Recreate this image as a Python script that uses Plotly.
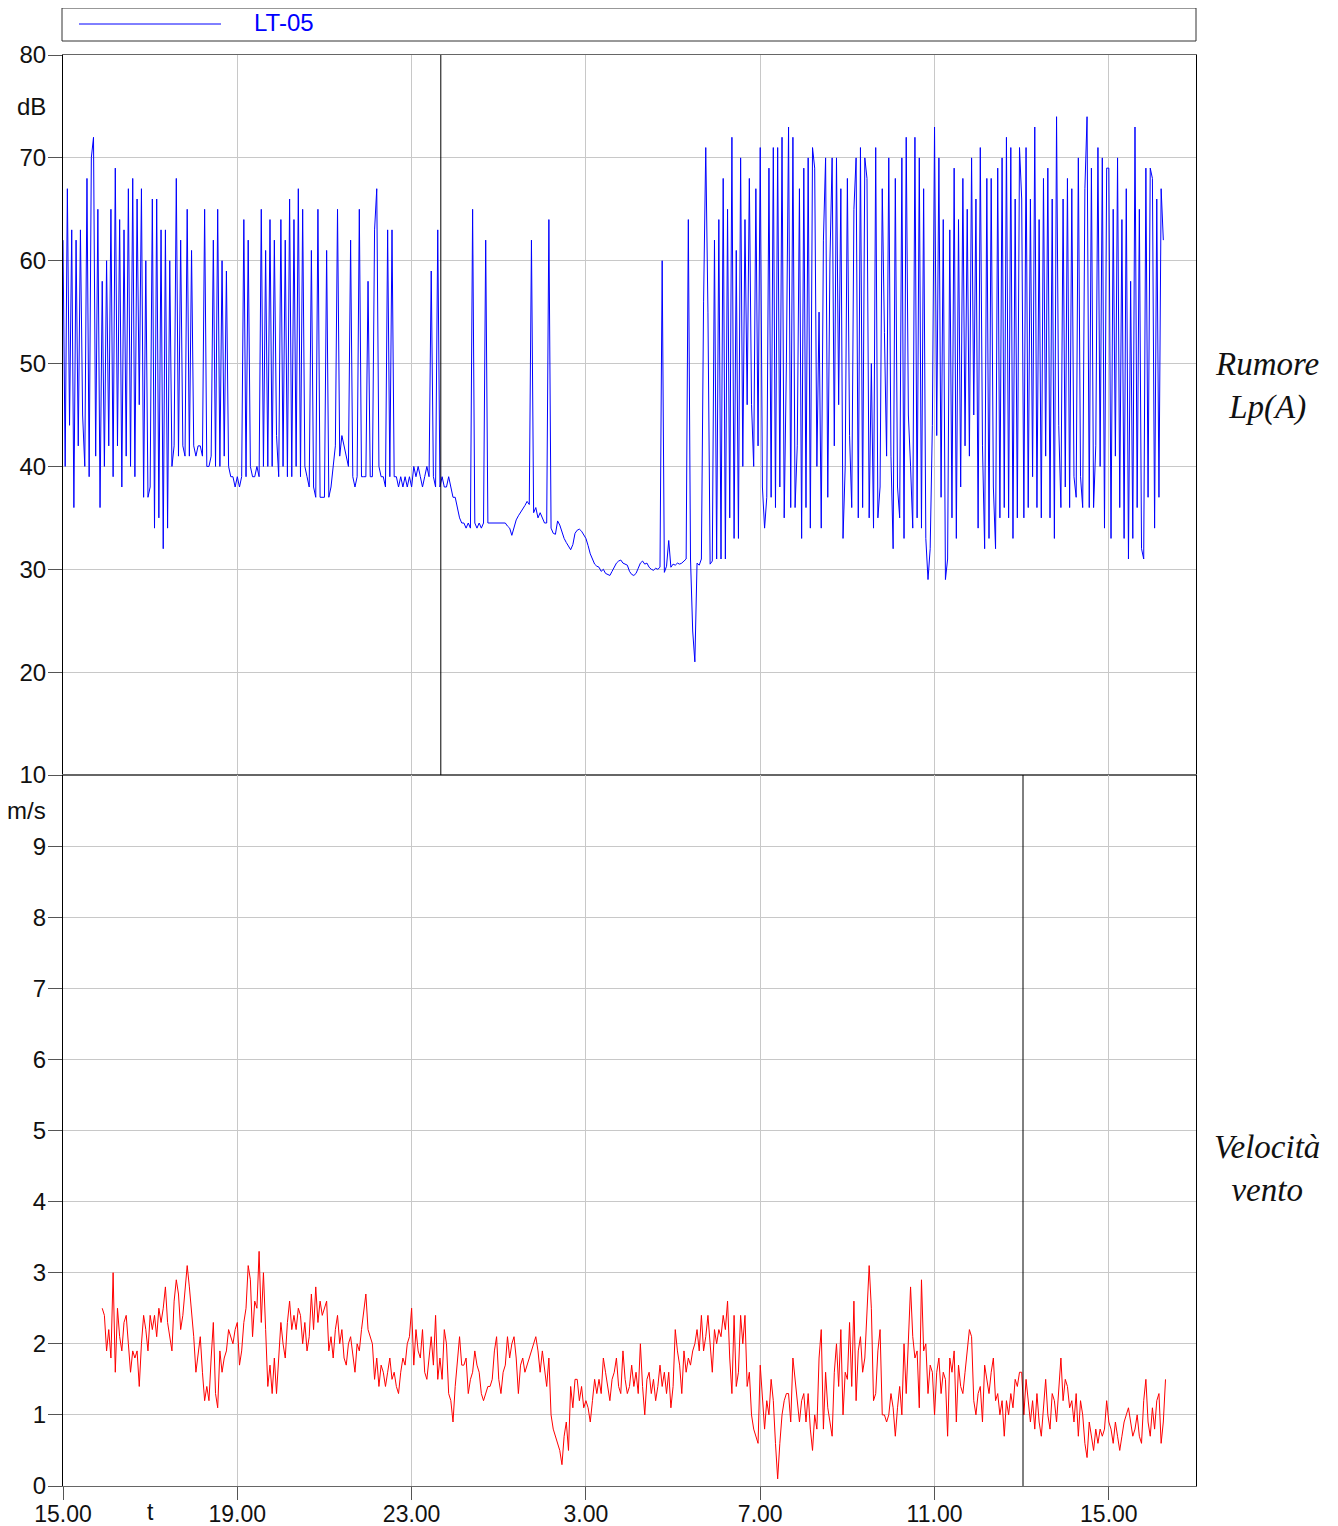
import plotly.graph_objects as go

# ---------------- DATA ----------------
# Noise level Lp(A) [dB], 3-minute samples starting at 15.00 (hours, >24 = next day)
noise_start = 15.0
noise_step = 0.05
noise_h15 = [62, 40, 67, 44, 63, 36, 62, 42, 63, 45, 40, 68, 39, 70, 72, 41, 65, 36, 58, 40]
noise_h16 = [60, 42, 65, 39, 69, 42, 64, 38, 63, 41, 67, 40, 68, 39, 66, 46, 67, 37, 60, 37]
noise_h17 = [38, 66, 34, 66, 35, 63, 32, 63, 34, 60, 40, 42, 68, 41, 62, 42, 41, 65, 41, 61]
noise_h18 = [42, 41, 42, 42, 41, 65, 40, 40, 41, 62, 40, 65, 40, 60, 41, 59, 40, 39, 39, 38]
noise_h19 = [39, 38, 39, 64, 39, 62, 40, 39, 39, 40, 39, 65, 40, 61, 40, 64, 40, 62, 43, 39]
noise_h20 = [64, 40, 62, 39, 66, 39, 64, 40, 67, 39, 65, 40, 39, 38, 61, 38, 37, 65, 37, 37]
noise_h21 = [37, 61, 37, 38, 40, 42, 65, 41, 43, 42, 41, 40, 62, 39, 38, 39, 65, 39, 39, 39]
noise_h22 = [58, 39, 39, 63, 67, 40, 39, 39, 38, 63, 39, 63, 39, 39, 38, 39, 38, 39, 38, 39]
noise_h23 = [38, 40, 39, 40, 39, 38, 39, 40, 39, 59, 39, 38, 63, 38, 39, 38, 38, 39, 38, 37]
noise_h00 = [37, 36, 35, 34.5, 34.5, 34, 34.5, 34, 65, 34.5, 34, 34.5, 34, 34.5, 62, 34.5, 34.5, 34.5, 34.5, 34.5]
noise_h01 = [34.5, 34.5, 34.5, 34.5, 34.2, 34, 33.3, 34, 34.8, 35.2, 35.5, 35.8, 36.2, 36.6, 36.3, 62, 35.5, 36, 35, 35.5]
noise_h02 = [35, 34.5, 34.5, 64, 34, 33.5, 33.4, 34.7, 34.3, 33.6, 33, 32.6, 32.2, 31.9, 32.4, 33.5, 33.8, 33.9, 33.7, 33.4]
noise_h03 = [33, 32.3, 31.5, 31, 30.5, 30.3, 30.2, 29.8, 30, 29.6, 29.5, 29.4, 29.8, 30.2, 30.6, 30.8, 30.9, 30.6, 30.5, 30.4]
noise_h04 = [29.8, 29.5, 29.4, 29.6, 30.1, 30.6, 30.8, 30.5, 30.6, 30.2, 30, 29.9, 30.1, 30, 30.2, 60, 29.7, 30.3, 32.8, 30.2]
noise_h05 = [30.5, 30.4, 30.6, 30.5, 30.6, 30.8, 31, 64, 31, 24, 21, 30.6, 30.4, 31, 56, 71, 55, 30.5, 30.8, 62]
noise_h06 = [31, 64, 31, 68, 31, 65, 35, 72, 33, 61, 33, 70, 40, 64, 46, 68, 46, 40, 67, 42]
noise_h07 = [71, 38, 34, 37, 69, 37, 71, 36, 71, 38, 72, 35, 50, 73, 36, 72, 36, 42, 67, 33]
noise_h08 = [69, 36, 70, 34, 71, 69, 40, 55, 34, 62, 70, 37, 60, 70, 42, 70, 46, 67, 33, 40]
noise_h09 = [68, 43, 36, 65, 70, 35, 71, 36, 70, 68, 35, 50, 34, 71, 35, 38, 67, 53, 41, 70]
noise_h10 = [41, 32, 68, 38, 35, 70, 33, 72, 45, 40, 34, 72, 35, 70, 34, 67, 33, 29, 32, 44]
noise_h11 = [73, 43, 70, 37, 64, 29, 31, 63, 35, 69, 33, 64, 38, 68, 42, 65, 41, 70, 45, 66]
noise_h12 = [34, 71, 42, 32, 68, 33, 68, 38, 32, 69, 35, 70, 36, 72, 35, 71, 33, 66, 35, 71]
noise_h13 = [66, 35, 71, 36, 66, 39, 73, 36, 64, 35, 68, 41, 69, 35, 66, 33, 74, 44, 36, 66]
noise_h14 = [38, 68, 36, 67, 39, 37, 70, 39, 36, 67, 74, 36, 69, 36, 42, 71, 40, 70, 34, 69]
noise_h15b = [69, 33, 65, 41, 70, 36, 64, 33, 67, 31, 58, 33, 73, 36, 65, 32, 31, 69, 37, 69]
noise_h16b = [68, 34, 66, 37, 67, 62]

# Wind speed [m/s], 3-minute samples starting at 15.90
wind_start = 15.9
wind_step = 0.05
wind_h15 = [2.5, 2.4]
wind_h16 = [1.9, 2.2, 1.8, 3.0, 1.6, 2.5, 2.1, 1.9, 2.3, 2.4, 2.0, 1.6, 1.9, 1.8, 1.9, 1.4, 2.0, 2.4, 2.2, 1.9]
wind_h17 = [2.4, 2.2, 2.4, 2.1, 2.5, 2.3, 2.5, 2.8, 2.3, 2.1, 1.9, 2.6, 2.9, 2.7, 2.2, 2.4, 2.7, 3.1, 2.8, 2.5]
wind_h18 = [2.1, 1.6, 1.9, 2.1, 1.6, 1.2, 1.4, 1.2, 1.8, 2.3, 1.3, 1.1, 1.9, 1.6, 1.8, 1.9, 2.2, 2.1, 2.0, 2.2]
wind_h19 = [2.3, 1.7, 1.9, 2.3, 2.5, 3.1, 2.9, 2.1, 2.6, 2.5, 3.3, 2.3, 3.0, 2.2, 1.4, 1.7, 1.3, 1.8, 1.3, 1.8]
wind_h20 = [2.3, 2.0, 1.8, 2.3, 2.6, 2.2, 2.4, 2.2, 2.5, 2.4, 2.0, 2.3, 1.9, 2.1, 2.7, 2.2, 2.8, 2.3, 2.6, 2.4]
wind_h21 = [2.5, 2.6, 1.9, 2.1, 1.8, 2.2, 2.4, 2.0, 2.2, 1.8, 1.7, 2.0, 2.1, 1.8, 1.6, 2.0, 1.9, 2.2, 2.5, 2.7]
wind_h22 = [2.2, 2.1, 2.0, 1.5, 1.8, 1.4, 1.7, 1.6, 1.4, 1.6, 1.8, 1.5, 1.6, 1.4, 1.3, 1.6, 1.8, 1.7, 2.0, 2.1]
wind_h23 = [2.5, 1.7, 2.2, 1.9, 1.8, 2.2, 1.6, 1.5, 1.8, 2.1, 1.7, 2.4, 1.5, 1.8, 1.5, 2.2, 2.0, 1.3, 1.2, 0.9]
wind_h00 = [1.4, 1.8, 2.1, 1.7, 1.7, 1.8, 1.3, 1.5, 1.6, 1.9, 1.7, 1.6, 1.3, 1.2, 1.3, 1.4, 1.4, 1.5, 1.9, 2.1]
wind_h01 = [1.5, 1.3, 1.6, 1.7, 2.1, 1.8, 2.0, 2.1, 1.8, 1.3, 1.7, 1.8, 1.6, 1.7, 1.8, 1.9, 2.0, 2.1, 1.9, 1.6]
wind_h02 = [1.9, 1.6, 1.4, 1.8, 1.0, 0.8, 0.7, 0.6, 0.5, 0.3, 0.7, 0.9, 0.5, 1.4, 1.1, 1.5, 1.5, 1.2, 1.4, 1.1]
wind_h03 = [1.2, 1.1, 0.9, 1.2, 1.5, 1.3, 1.5, 1.3, 1.8, 1.6, 1.4, 1.2, 1.5, 1.6, 1.8, 1.4, 1.3, 1.9, 1.5, 1.3]
wind_h04 = [1.4, 1.7, 1.4, 1.6, 1.3, 2.0, 1.4, 1.0, 1.5, 1.6, 1.3, 1.5, 1.2, 1.4, 1.7, 1.4, 1.6, 1.3, 1.6, 1.1]
wind_h05 = [1.4, 2.2, 1.9, 1.7, 1.3, 1.9, 1.6, 1.8, 1.7, 1.9, 2.0, 2.2, 1.9, 2.4, 1.9, 2.1, 2.4, 2.0, 1.6, 2.2]
wind_h06 = [2.0, 2.2, 2.1, 2.4, 2.2, 2.6, 1.8, 1.3, 2.4, 1.4, 1.6, 2.4, 2.0, 2.4, 1.4, 1.6, 1.0, 0.8, 0.7, 0.6]
wind_h07 = [1.7, 1.3, 0.8, 1.2, 1.0, 1.5, 1.2, 0.6, 0.1, 0.6, 1.0, 1.2, 1.3, 1.3, 0.9, 1.8, 1.5, 1.2, 0.9, 1.2]
wind_h08 = [1.3, 0.9, 1.3, 0.8, 0.5, 1.0, 0.8, 1.8, 2.2, 0.8, 1.6, 1.1, 0.9, 0.7, 1.6, 2.0, 1.4, 2.2, 1.0, 1.6]
wind_h09 = [1.5, 2.3, 1.4, 2.6, 1.2, 1.9, 2.1, 1.6, 1.8, 2.5, 3.1, 2.5, 1.2, 1.3, 1.9, 2.2, 1.0, 1.0, 0.9, 1.0]
wind_h10 = [1.3, 1.1, 0.7, 1.1, 1.4, 1.0, 2.0, 1.3, 2.1, 2.8, 2.1, 1.8, 1.9, 1.1, 2.9, 1.9, 2.0, 1.3, 1.7, 1.6]
wind_h11 = [1.0, 1.6, 1.8, 1.3, 1.6, 1.5, 0.7, 1.8, 1.6, 1.9, 0.9, 1.7, 1.4, 1.3, 1.6, 1.9, 2.2, 2.1, 1.2, 1.0]
wind_h12 = [1.3, 1.4, 0.9, 1.7, 1.5, 1.3, 1.6, 1.8, 1.2, 1.3, 1.0, 1.2, 0.7, 1.2, 1.0, 1.3, 1.1, 1.5, 1.4, 1.6]
wind_h13 = [1.6, 1.0, 1.5, 1.2, 0.9, 1.2, 0.8, 1.3, 0.9, 0.7, 1.1, 1.5, 1.0, 0.8, 1.3, 1.2, 0.9, 1.4, 1.8, 1.2]
wind_h14 = [1.5, 1.4, 1.1, 1.2, 0.9, 1.3, 0.7, 1.2, 1.0, 0.6, 0.4, 0.9, 0.7, 0.5, 0.8, 0.6, 0.8, 0.7, 0.8, 1.2]
wind_h15b = [0.9, 0.8, 0.6, 0.9, 0.7, 0.5, 0.7, 0.9, 1.0, 1.1, 0.9, 0.7, 0.8, 1.0, 0.7, 0.6, 1.2, 1.5, 0.9, 0.7]
wind_h16b = [1.1, 0.8, 1.2, 1.3, 0.6, 0.9, 1.5]

# Axis ticks
x_tickvals = [15, 19, 23, 27, 31, 35, 39]
x_ticktext = ["15.00", "19.00", "23.00", "3.00", "7.00", "11.00", "15.00"]
noise_ticks = [10, 20, 30, 40, 50, 60, 70, 80]
wind_ticks = [0, 1, 2, 3, 4, 5, 6, 7, 8, 9]
cursor_top = 23.67
cursor_bottom = 37.03
series_name = "LT-05"

# ---------------- BUILD ----------------
noise = (noise_h15 + noise_h16 + noise_h17 + noise_h18 + noise_h19 + noise_h20 + noise_h21
         + noise_h22 + noise_h23 + noise_h00 + noise_h01 + noise_h02 + noise_h03 + noise_h04
         + noise_h05 + noise_h06 + noise_h07 + noise_h08 + noise_h09 + noise_h10 + noise_h11
         + noise_h12 + noise_h13 + noise_h14 + noise_h15b + noise_h16b)
noise_t = [noise_start + noise_step * i for i in range(len(noise))]

wind = (wind_h15 + wind_h16 + wind_h17 + wind_h18 + wind_h19 + wind_h20 + wind_h21 + wind_h22
        + wind_h23 + wind_h00 + wind_h01 + wind_h02 + wind_h03 + wind_h04 + wind_h05 + wind_h06
        + wind_h07 + wind_h08 + wind_h09 + wind_h10 + wind_h11 + wind_h12 + wind_h13 + wind_h14
        + wind_h15b + wind_h16b)
wind_t = [wind_start + wind_step * i for i in range(len(wind))]

# page body adds an 8px offset; figure coordinates are shifted accordingly
OFF = 8
W, H = 1338 - OFF, 1526 - OFF
L, R, T, B = 63 - OFF, 142, 55 - OFF, 40
plot_h = H - T - B
split = (1486 - 775) / plot_h

fig = go.Figure()
fig.add_trace(go.Scatter(x=noise_t, y=noise, mode="lines", name=series_name,
                         line=dict(color="#0000ff", width=1), xaxis="x", yaxis="y",
                         showlegend=False))
fig.add_trace(go.Scatter(x=wind_t, y=wind, mode="lines", name="vento",
                         line=dict(color="#ff0000", width=1), xaxis="x2", yaxis="y2",
                         showlegend=False))

tick_font = dict(family="Liberation Sans, Arial, sans-serif", size=24, color="#111111")
xtick_font = dict(family="Liberation Sans, Arial, sans-serif", size=23, color="#111111")
grid = "#c8c8c8"

common_x = dict(range=[15, 41], tickvals=x_tickvals, showgrid=True, gridcolor=grid,
                gridwidth=1, zeroline=False, showline=True, mirror=True, linecolor="#666666",
                linewidth=1, automargin=False)

fig.update_layout(
    width=W, height=H,
    margin=dict(l=L, r=R, t=T, b=B),
    paper_bgcolor="white", plot_bgcolor="white",
    showlegend=False,
    xaxis=dict(**common_x, anchor="y", showticklabels=False, ticks=""),
    xaxis2=dict(**common_x, anchor="y2", ticktext=x_ticktext, ticks="outside",
                ticklen=13, tickcolor="#555555", tickfont=xtick_font,
                ticklabelstandoff=-6),
    yaxis=dict(domain=[split, 1], range=[10, 80], tickvals=noise_ticks, showgrid=True,
               gridcolor=grid, zeroline=False, showline=True, mirror=True,
               linecolor="#000000", linewidth=1, ticks="outside", ticklen=14,
               tickcolor="#555555", tickfont=tick_font, anchor="x", automargin=False,
               ticklabelstandoff=-3),
    yaxis2=dict(domain=[0, split], range=[0, 10], tickvals=wind_ticks, showgrid=True,
                gridcolor=grid, zeroline=False, showline=True, mirror=True,
                linecolor="#000000", linewidth=1, ticks="outside", ticklen=14,
                tickcolor="#555555", tickfont=tick_font, anchor="x2", automargin=False,
                ticklabelstandoff=-3),
)

# cursor lines
fig.add_shape(type="line", xref="x", yref="y domain", x0=cursor_top, x1=cursor_top,
              y0=0, y1=1, line=dict(color="#000000", width=1))
fig.add_shape(type="line", xref="x2", yref="y2 domain", x0=cursor_bottom, x1=cursor_bottom,
              y0=0, y1=1, line=dict(color="#000000", width=1))

# legend box (drawn); helpers take screenshot pixel positions
def px_x(px):
    return (px - 63) / (1196 - 63)

def px_y(py):
    return (1486 - py) / (1486 - 55)

fig.add_shape(type="rect", xref="paper", yref="paper", x0=px_x(62), x1=px_x(1196),
              y0=px_y(41), y1=px_y(8), line=dict(color="#333333", width=1),
              fillcolor="white")
fig.add_shape(type="line", xref="paper", yref="paper", x0=px_x(79), x1=px_x(221),
              y0=px_y(24), y1=px_y(24), line=dict(color="#0000ff", width=1))
fig.add_annotation(xref="paper", yref="paper", x=px_x(252), y=px_y(23), xanchor="left",
                   yanchor="middle", text=series_name, showarrow=False,
                   font=dict(family="Liberation Sans, Arial, sans-serif", size=24,
                             color="#0000ff"))

# unit labels
unit_font = dict(family="Liberation Sans, Arial, sans-serif", size=24, color="#111111")
fig.add_annotation(xref="paper", yref="y", x=0, y=75, xanchor="right", yanchor="middle",
                   xshift=-15, text="dB", showarrow=False, font=unit_font)
fig.add_annotation(xref="paper", yref="y2", x=0, y=9.5, xanchor="right", yanchor="middle",
                   xshift=-15, text="m/s", showarrow=False, font=unit_font)
fig.add_annotation(xref="x2", yref="paper", x=17, y=0, xanchor="center", yanchor="top",
                   yshift=-11, text="t", showarrow=False, font=xtick_font)

# right-side titles
title_font = dict(family="Liberation Serif, Times New Roman, serif", size=33, color="#111111")
fig.add_annotation(xref="paper", yref="paper", x=px_x(1267), y=px_y(386), xanchor="center",
                   yanchor="middle", text="<i>Rumore</i><br><i>Lp(A)</i>", showarrow=False,
                   font=title_font)
fig.add_annotation(xref="paper", yref="paper", x=px_x(1267), y=px_y(1168), xanchor="center",
                   yanchor="middle", text="<i>Velocità</i><br><i>vento</i>", showarrow=False,
                   font=title_font)

fig.write_html("out.html")
